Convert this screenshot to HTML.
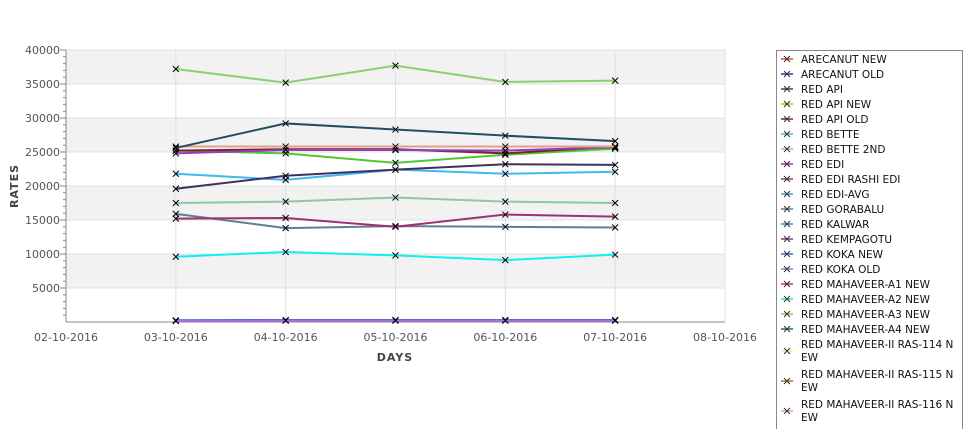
<!DOCTYPE html>
<html><head><meta charset="utf-8"><style>
body{margin:0;background:#fff;font-family:"DejaVu Sans","Liberation Sans",sans-serif;}
svg text{font-family:"DejaVu Sans","Liberation Sans",sans-serif;}
</style></head><body>
<svg id="chart" width="975" height="429" xmlns="http://www.w3.org/2000/svg">
<g id="plot"></g>
<text transform="translate(18,186) rotate(-90)" text-anchor="middle" font-size="11" font-weight="bold" fill="#444" letter-spacing="1">RATES</text>
<text x="395" y="361" text-anchor="middle" font-size="11" font-weight="bold" fill="#444" letter-spacing="1">DAYS</text>
<g id="legend"></g>
</svg>
<script>
const categories=["03-10-2016","04-10-2016","05-10-2016","06-10-2016","07-10-2016"];
const xTickLabels=["02-10-2016","03-10-2016","04-10-2016","05-10-2016","06-10-2016","07-10-2016","08-10-2016"];
const yTickLabels=[5000,10000,15000,20000,25000,30000,35000,40000];
const seriesNames=["ARECANUT NEW","ARECANUT OLD","RED API","RED API NEW","RED API OLD","RED BETTE","RED BETTE 2ND","RED EDI","RED EDI RASHI EDI","RED EDI-AVG","RED GORABALU","RED KALWAR","RED KEMPAGOTU","RED KOKA NEW","RED KOKA OLD","RED MAHAVEER-A1 NEW","RED MAHAVEER-A2 NEW","RED MAHAVEER-A3 NEW","RED MAHAVEER-A4 NEW","RED MAHAVEER-II RAS-114 NEW","RED MAHAVEER-II RAS-115 NEW","RED MAHAVEER-II RAS-116 NEW","RED MAHAVEER-II RAS-117 NEW"];
const seriesColors=["#e0501a","#3030c0","#205060","#d0c000","#802040","#40b8f0","#90c8a0","#c020c0","#a03070","#40a0e0","#608090","#4080f0","#a03080","#3070d0","#a070e0","#e02090","#20e0c0","#a0c040","#208020","#f0f0a0","#c07020","#e8a090","#60d060"];
const sLightGreen=[37200,35200,37700,35300,35500];
const sTeal=[25600,29200,28300,27400,26600];
const sSalmon=[25800,25800,25800,25800,25800];
const sPurple=[24800,25300,25300,25200,25700];
const sDarkRed=[25200,25400,25400,24800,25800];
const sGreen=[25200,24800,23400,24600,25500];
const sDarkPurple=[19600,21500,22400,23200,23100];
const sLightBlue=[21800,20900,22400,21800,22100];
const sSage=[17500,17700,18300,17700,17500];
const sMagenta=[15200,15300,14000,15800,15500];
const sSlate=[15900,13800,14100,14000,13900];
const sCyan=[9600,10300,9800,9100,9900];
const sBottomA=[250,300,300,300,300];
const sBottomB=[150,200,200,200,200];
const lines=[[sLightGreen,"#88d070"],[sCyan,"#10f0f0"],[sSlate,"#608090"],[sMagenta,"#a03070"],[sSage,"#90c8a0"],[sLightBlue,"#40b8f0"],[sDarkPurple,"#403060"],[sGreen,"#50c830"],[sDarkRed,"#802030"],[sPurple,"#9040b0"],[sSalmon,"#e0a090"],[sTeal,"#205060"],[sBottomA,"#4060e0"],[sBottomB,"#a070e0"]];
const NS="http://www.w3.org/2000/svg";
const L=66,R=725,T=50,B=322,YMAX=40000;
const y=v=>B-(v/YMAX)*(B-T);
const x=i=>L+(i+1)*(R-L)/6;
function mk(t,a,p){const e=document.createElementNS(NS,t);for(const k in a)e.setAttribute(k,a[k]);p.appendChild(e);return e;}
const plot=document.getElementById('plot');
for(let k=0;k<8;k++){const r=mk('rect',{x:L,y:y(40000-k*5000),width:R-L,height:y(0)-y(5000),fill:k%2?'#ffffff':'#f2f2f2'},plot);

}
yTickLabels.forEach(v=>{mk('line',{x1:L,x2:R,y1:y(v),y2:y(v),stroke:'#e0e0e0'},plot);
const t=mk('text',{x:L-6,y:y(v)+4,'text-anchor':'end','font-size':11,fill:'#555'},plot);t.textContent=v;

});
for(let v=1000;v<=40000;v+=1000){mk('line',{x1:L-(v%5000?3:6),x2:L,y1:y(v),y2:y(v),stroke:'#888'},plot);}
xTickLabels.forEach((c,i)=>{const px=L+i*(R-L)/6;mk('line',{x1:px,x2:px,y1:T,y2:B,stroke:'#e0e0e0'},plot);
const t=mk('text',{x:px,y:341,'text-anchor':'middle','font-size':11,fill:'#555'},plot);t.textContent=c;

});
mk('line',{x1:L,x2:L,y1:T,y2:B,stroke:'#888'},plot);
mk('line',{x1:L,x2:R,y1:B,y2:B,stroke:'#888'},plot);
lines.forEach(([d,c])=>{const p=mk('polyline',{points:d.map((v,i)=>x(i)+','+y(v)).join(' '),fill:'none',stroke:c,'stroke-width':2},plot);


d.forEach((v,i)=>{const g=mk('path',{d:`M${x(i)-3},${y(v)-3}L${x(i)+3},${y(v)+3}M${x(i)-3},${y(v)+3}L${x(i)+3},${y(v)-3}`,stroke:'#000','stroke-width':1},plot);

});});
const lg=document.getElementById('legend');
mk('rect',{x:776.5,y:50.5,width:186,height:390,fill:'#fff',stroke:'#888'},lg);
let ly=59;
seriesNames.forEach((n,i)=>{const two=n.length>24;const cy=two?ly+7:ly;
mk('line',{x1:781,x2:793,y1:cy,y2:cy,stroke:seriesColors[i],'stroke-width':1.5},lg);
mk('path',{d:`M784,${cy-3}L790,${cy+3}M784,${cy+3}L790,${cy-3}`,stroke:'#333'},lg);
const t=mk('text',{x:801,y:ly+4,'font-size':10.5,fill:'#111'},lg);


if(two){t.textContent=n.slice(0,25);const t2=mk('text',{x:801,y:ly+17,'font-size':10.5,fill:'#111'},lg);t2.textContent=n.slice(25);ly+=30;}
else{t.textContent=n;ly+=15;}});
</script>
</body></html>
